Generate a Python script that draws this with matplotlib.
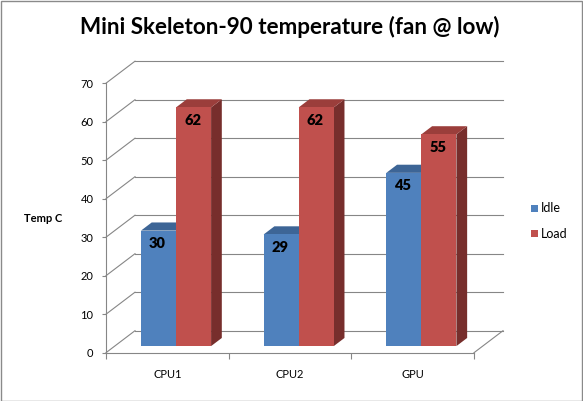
import matplotlib
matplotlib.use('Agg')
import matplotlib.pyplot as plt
from matplotlib.patches import Polygon, Rectangle
from matplotlib.lines import Line2D
from matplotlib.transforms import IdentityTransform

# ---- data ----
categories = ['CPU1', 'CPU2', 'GPU']
series_names = ['Idle', 'Load']
idle = [30, 29, 45]
load = [62, 62, 55]
yticks = [0, 10, 20, 30, 40, 50, 60, 70]
title = 'Mini Skeleton-90 temperature (fan @ low)'
ylabel = 'Temp C'

# ---- style ----
FONT = 'Lato'
GRAY = '#868686'
front_cols = ['#4F81BD', '#C0504D']
top_cols = ['#3D6596', '#9B3E3B']
side_cols = ['#2F5078', '#772E2C']

W, H = 583, 401
fig = plt.figure(figsize=(W / 100, H / 100), dpi=100)
fig.patch.set_facecolor('white')

# front plane of the 3D plot area (pixels, top-down)
L, R, B, T = 106, 474, 352.7, 83.2
ax = fig.add_axes([L / W, 1 - B / H, (R - L) / W, (B - T) / H])
ax.set_xlim(0, len(categories))
ax.set_ylim(min(yticks), max(yticks))
ax.patch.set_alpha(0)
DX, DY = 29, 22  # depth offset in pixels
ID = IdentityTransform()


def to_px(x, y, d):
    px, py = ax.transData.transform((x, y))
    return (px + d * DX, py + d * DY)


def line(p, q, z=1):
    ax.add_line(Line2D([p[0], q[0]], [p[1], q[1]], transform=ID, color=GRAY,
                       lw=0.8, zorder=z, clip_on=False))


n = len(categories)
# back wall gridlines and side wall diagonals
for v in yticks:
    line(to_px(0, v, 1), to_px(n, v, 1))
    line(to_px(0, v, 0), to_px(0, v, 1))
# floor right edge
line(to_px(n, 0, 0), to_px(n, 0, 1))

# spines / ticks
for s in ['top', 'right']:
    ax.spines[s].set_visible(False)
for s in ['left', 'bottom']:
    ax.spines[s].set_color(GRAY)
    ax.spines[s].set_linewidth(0.8)
ax.set_yticks(yticks)
ax.tick_params(axis='y', direction='out', length=3, width=0.8, color=GRAY,
               pad=6, labelsize=8)
ax.set_xticks(range(n + 1))
ax.set_xticklabels([''] * (n + 1))
ax.tick_params(axis='x', which='major', direction='out', length=4, width=0.8,
               color=GRAY)
ax.set_xticks([i + 0.5 for i in range(n)], minor=True)
ax.set_xticklabels(categories, minor=True)
ax.tick_params(axis='x', which='minor', length=0, pad=11.5, labelsize=8)
for lab in ax.get_xticklabels(which='both') + ax.get_yticklabels():
    lab.set_fontfamily(FONT)

# bars
w = 1 / 3.5
d0, d1 = 0.3, 0.67
series = [idle, load]
z = 5
for i in range(n):
    for k, vals in enumerate(series):
        v = vals[i]
        x0 = i + 0.75 * w + k * w
        x1 = x0 + w
        front = [to_px(x0, 0, d0), to_px(x1, 0, d0), to_px(x1, v, d0), to_px(x0, v, d0)]
        top = [to_px(x0, v, d0), to_px(x1, v, d0), to_px(x1, v, d1), to_px(x0, v, d1)]
        side = [to_px(x1, 0, d0), to_px(x1, 0, d1), to_px(x1, v, d1), to_px(x1, v, d0)]
        for pts, c in [(side, side_cols[k]), (top, top_cols[k]), (front, front_cols[k])]:
            ax.add_patch(Polygon(pts, closed=True, transform=ID, facecolor=c,
                                 edgecolor='none', zorder=z, clip_on=False))
        z += 1
        cx, cy = to_px((x0 + x1) / 2, v, d0)
        ax.text(cx - 1, cy - 13, str(v), transform=ID, ha='center', va='center',
                fontsize=10.5, fontweight='heavy', family=FONT, color='black',
                zorder=z + 20, clip_on=False)

# title and axis label
fig.text(290 / W, 1 - 33.5 / H, title, ha='center', va='baseline',
         fontsize=16.2, fontweight='bold', family=FONT)
fig.text(24 / W, 1 - 219 / H, ylabel, ha='left', va='center', fontsize=8,
         fontweight='bold', family=FONT)

# legend
for k, name in enumerate(series_names):
    yc = 208.5 + k * 25
    fig.patches.append(Rectangle((531 / W, 1 - (yc + 3.5) / H), 7 / W, 7 / H,
                                 transform=fig.transFigure, facecolor=front_cols[k],
                                 edgecolor='none'))
    fig.text(541 / W, 1 - yc / H, name, ha='left', va='center', fontsize=9,
             family=FONT)

# outer border
fig.patches.append(Rectangle((0.5 / W, 0.5 / H), (W - 1.5) / W, (H - 1.5) / H,
                             transform=fig.transFigure, facecolor='none',
                             edgecolor='#8A8A8A', lw=1.0))

fig.savefig('out.png', dpi=100, facecolor='white')
